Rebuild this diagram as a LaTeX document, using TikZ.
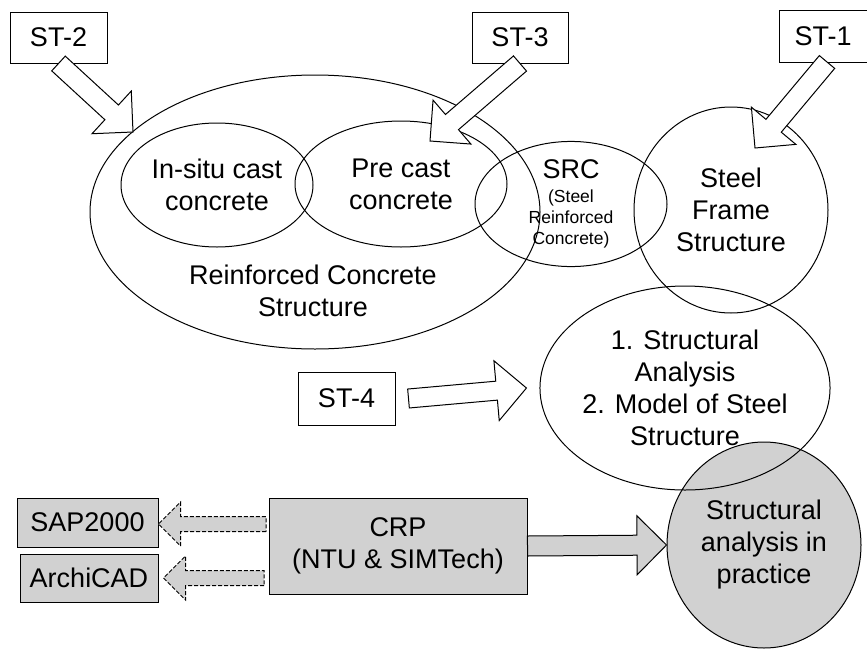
\documentclass[tikz,border=0pt]{standalone}
\usepackage{fontspec}
\setmainfont{Liberation Sans}
\usetikzlibrary{calc,shapes.geometric}

\newcommand\bigtxt{\fontsize{27}{32}\selectfont}
\newcommand\smtxt{\fontsize{17.5}{21}\selectfont}

% block arrow: [style]{from}{to}{half shaft}{half head}
\newcommand\fatarrow[5][]{%
	\coordinate (nk) at ($(#3)!#5pt!(#2)$);
	\draw[#1] ($(#2)!#4pt!90:(#3)$) -- ($(nk)!#4pt!-90:(#2)$)
		-- ($(nk)!#5pt!-90:(#2)$) -- (#3) -- ($(nk)!#5pt!90:(#2)$)
		-- ($(nk)!#4pt!90:(#2)$) -- ($(#2)!#4pt!-90:(#3)$) -- cycle;
}

\begin{document}
\begin{tikzpicture}[x=1pt,y=-1pt,line width=1pt,
	box/.style={draw,rectangle,inner sep=0pt,font=\bigtxt},
	oval/.style={draw,ellipse,inner sep=0pt,align=center,font=\bigtxt},
	shade/.style={fill=black!18},
	hollow/.style={draw,fill=white},
	dashy/.style={draw,fill=black!18,dash pattern=on 4pt off 2pt}]
	\useasboundingbox (0,0) rectangle (867,648);
	% shaded circle first, the analysis oval runs over it
	\node[oval,shade,minimum width=194,minimum height=206] (prac) at (764,545) {Structural\\analysis in\\practice};
	\node[oval,minimum width=450,minimum height=274] (rc) at (315,212) {};
	\node[font=\bigtxt,align=center] (rctxt) at (313,291) {Reinforced Concrete\\Structure};
	\node[oval,minimum width=192,minimum height=124] (insitu) at (217,185) {In-situ cast\\concrete};
	\node[oval,minimum width=212,minimum height=126] (precast) at (401,184) {Pre cast\\concrete};
	\node[oval,minimum width=192,minimum height=124,font=\smtxt] (src) at (571,204) {\bigtxt SRC\\[3pt](Steel\\Reinforced\\Concrete)};
	\node[oval,minimum width=194,minimum height=206] (steel) at (731,210) {Steel\\Frame\\Structure};
	\node[oval,minimum width=290,minimum height=204] (ana) at (685,388) {1. Structural\\Analysis\\2. Model of Steel\\Structure};

	\node[box,minimum width=97,minimum height=51] (st2) at (58.5,37.5) {ST-2};
	\node[box,minimum width=96,minimum height=51] (st3) at (520,37.5) {ST-3};
	\node[box,minimum width=88,minimum height=52] (st1) at (823,36.5) {ST-1};
	\node[box,minimum width=97,minimum height=53] (st4) at (346.5,398.5) {ST-4};
	\node[box,shade,minimum width=141,minimum height=49] (sap) at (87.5,522.5) {SAP2000};
	\node[box,shade,minimum width=138,minimum height=48] (archi) at (89,578) {ArchiCAD};
	\node[box,shade,minimum width=258,minimum height=96,align=center] (crp) at (398,546) {CRP\\(NTU \& SIMTech)};

	% arrow ends
	\coordinate (t2) at (133,132);
	\coordinate (t3) at (430,141);
	\coordinate (s1) at (827,62);
	\coordinate (t1) at (755,148);
	\coordinate (s4) at ($(st4.east)+(13,0)$);
	\coordinate (t4) at ($(ana.west)+(-13,0)$);
	\coordinate (d1s) at (266,524);
	\coordinate (d1t) at (sap.east |- d1s);
	\coordinate (d2s) at (264,578);
	\coordinate (d2t) at ($(archi.east)+(5,0)$);

	\fatarrow[hollow]{st2.south}{t2}{10}{29}
	\fatarrow[hollow]{st3.south}{t3}{10}{29}
	\fatarrow[hollow]{s1}{t1}{10}{29}
	\fatarrow[hollow]{s4}{t4}{9.5}{30}
	\fatarrow[draw,shade]{crp.east}{prac.west}{10}{29.5}
	\fatarrow[dashy]{d1s}{d1t}{7.5}{22}
	\fatarrow[dashy]{d2s}{d2t}{7.5}{22}
\end{tikzpicture}
\end{document}
